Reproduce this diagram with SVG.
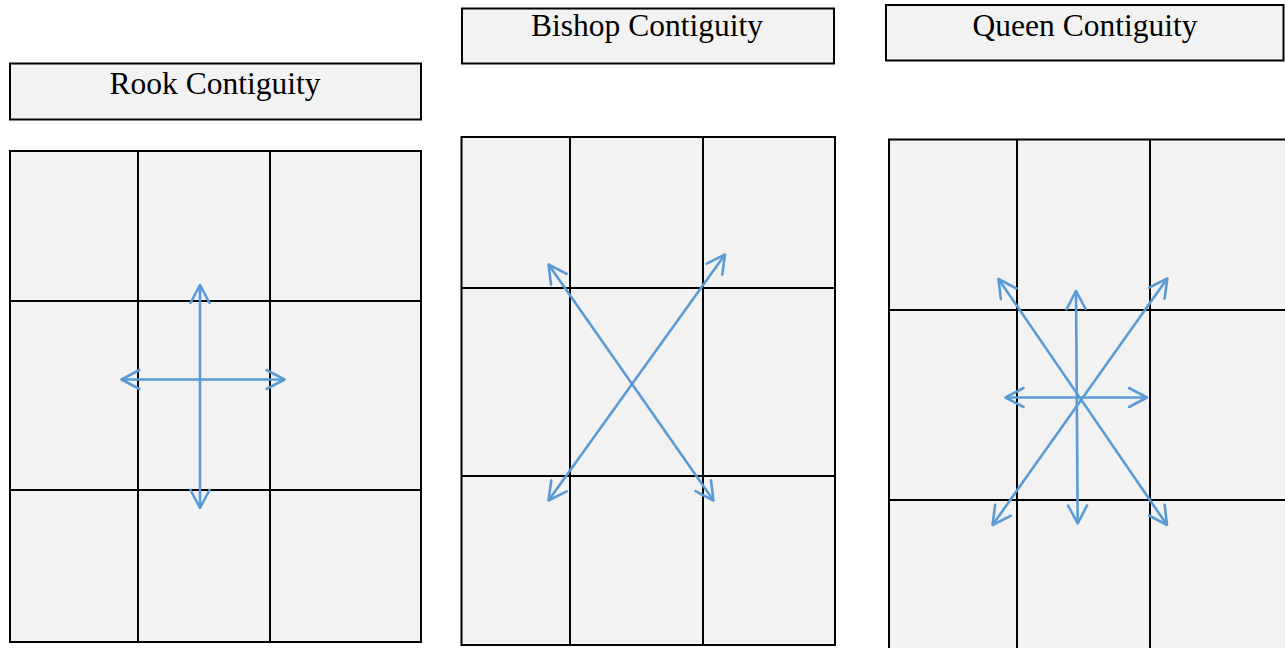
<svg xmlns="http://www.w3.org/2000/svg" width="1285" height="648" viewBox="0 0 1285 648">
  <style>
    .box { fill: #f2f2f2; stroke: #000; stroke-width: 2; }
    .grid { fill: none; stroke: #000; stroke-width: 2; }
    .label { font-family: "Liberation Serif", "Times New Roman", serif; font-size: 31.5px; fill: #000; text-anchor: middle; }
    .link { fill: none; stroke: #5b9bd5; stroke-width: 2.6; marker-start: url(#head); marker-end: url(#head); }
  </style>
  <defs>
    <marker id="head" markerUnits="userSpaceOnUse" viewBox="-20 -12 24 24" refX="0" refY="0" markerWidth="24" markerHeight="24" orient="auto-start-reverse">
      <path d="M-18,-9.5 L0,0 L-18,9.5" fill="none" stroke="#5b9bd5" stroke-width="2.6" stroke-linecap="round" stroke-linejoin="round"/>
    </marker>
  </defs>
  <rect width="1285" height="648" fill="#fff"/>

  <!-- Rook contiguity -->
  <g id="rook-title">
    <rect class="box" x="10" y="63.5" width="411" height="56"/>
    <text class="label" x="215" y="93.5">Rook Contiguity</text>
  </g>
  <g id="rook-grid">
    <rect class="box" x="10" y="151" width="411" height="491"/>
    <path class="grid" d="M138,151 V642 M270,151 V642 M10,301 H421 M10,490 H421"/>
  </g>

  <!-- Bishop contiguity -->
  <g id="bishop-title">
    <rect class="box" x="462" y="8.5" width="372" height="55"/>
    <text class="label" x="647" y="35.5">Bishop Contiguity</text>
  </g>
  <g id="bishop-grid">
    <rect class="box" x="461.5" y="137" width="373.5" height="508"/>
    <path class="grid" d="M570,137 V645 M703,137 V645 M461.5,288 H835 M461.5,476 H835"/>
  </g>

  <!-- Queen contiguity -->
  <g id="queen-title">
    <rect class="box" x="886" y="5" width="397.5" height="55.5"/>
    <text class="label" x="1085" y="35.5">Queen Contiguity</text>
  </g>
  <g id="queen-grid">
    <rect class="box" x="889" y="139.5" width="400" height="520"/>
    <path class="grid" d="M1017,139.5 V650 M1150,139.5 V650 M889,310 H1287 M889,500 H1287"/>
  </g>

  <!-- Neighbour connectors -->
  <g id="connectors">
    <line class="link" x1="200" y1="285" x2="200" y2="508"/>
    <line class="link" x1="121.5" y1="379.5" x2="284.5" y2="379.5"/>

    <line class="link" x1="548.5" y1="264.5" x2="713.5" y2="500.5"/>
    <line class="link" x1="725" y1="254.5" x2="548.5" y2="500.5"/>

    <line class="link" x1="998.5" y1="279" x2="1167" y2="525"/>
    <line class="link" x1="1167.3" y1="278.5" x2="992.5" y2="525"/>
    <line class="link" x1="1076" y1="291" x2="1077.7" y2="523.5"/>
    <line class="link" x1="1005.5" y1="397.5" x2="1147" y2="397.5"/>
  </g>
</svg>
